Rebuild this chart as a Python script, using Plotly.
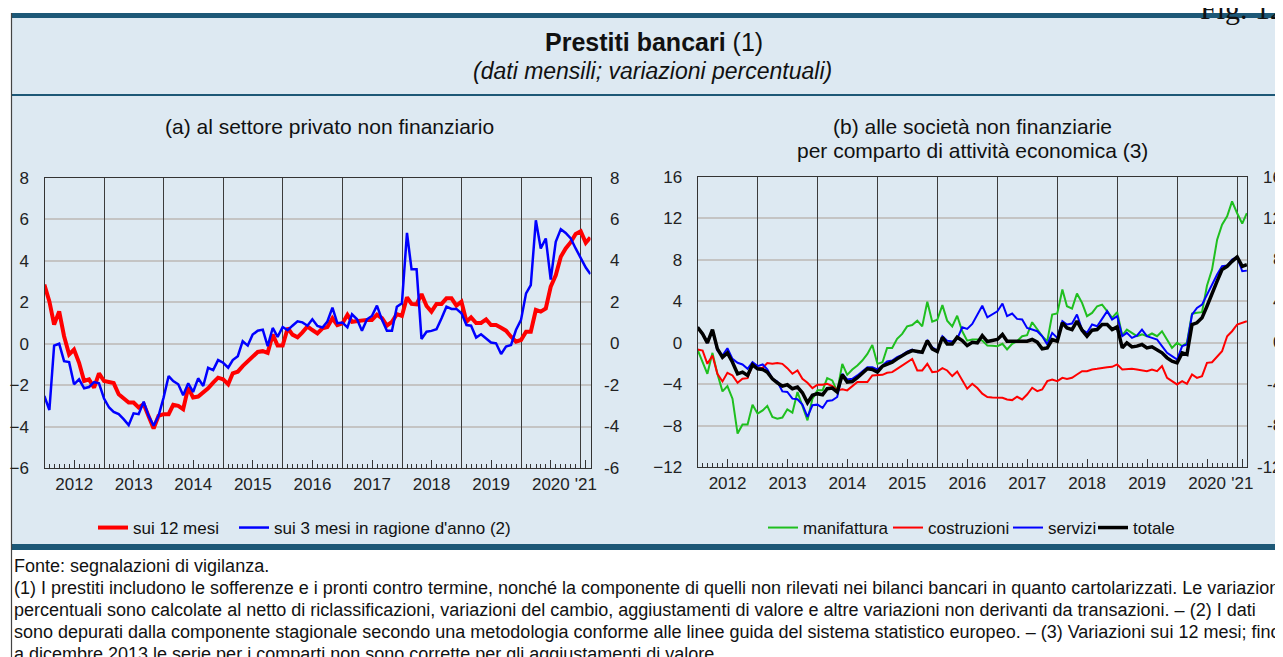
import pandas as pd
import plotly.graph_objects as go

W, H = 1283, 657

# dati mensili, dicembre 2011 - febbraio 2021 (fine mese)
mesi = pd.date_range("2012-01-01", periods=111, freq="MS") - pd.Timedelta(days=1)

# (a) settore privato non finanziario
sui_12_mesi = [
    2.85, 2.04, 0.92, 1.56, 0.36, -0.52, -0.28, -0.92, -1.8, -1.72, -2.12, -1.43,
    -1.8, -1.85, -1.9, -2.44, -2.65, -2.84, -2.84, -3.08, -2.92, -3.48, -4.09, -3.48,
    -3.4, -3.4, -2.95, -3.0, -3.16, -2.12, -2.6, -2.55, -2.36, -2.15, -1.88, -1.64,
    -1.72, -1.96, -1.43, -1.35, -1.08, -0.84, -0.6, -0.4, -0.36, -0.44, 0.44, -0.09,
    -0.09, 0.76, 0.44, 0.31, 0.55, 0.83, 0.66, 0.5, 0.74, 0.8, 1.23, 0.9,
    0.98, 1.4, 1.06, 1.1, 1.1, 1.15, 1.15, 1.4, 1.23, 0.87, 1.06, 1.43,
    1.34, 2.24, 1.92, 1.9, 2.4, 1.82, 1.55, 1.92, 1.92, 2.19, 2.19, 1.84,
    2.03, 1.06, 1.27, 1.0, 1.0, 1.17, 0.9, 0.9, 0.77, 0.63, 0.34, 0.1,
    0.18, 0.58, 0.58, 1.63, 1.55, 1.7, 2.75, 3.3, 4.2, 4.6, 4.9, 5.3,
    5.43, 4.87, 5.13,
]
sui_3_mesi = [
    -2.52, -3.2, -0.09, 0.0, -0.84, -0.89, -1.96, -1.72, -2.15, -2.09, -1.85, -1.91,
    -2.65, -3.08, -3.29, -3.4, -3.64, -3.93, -3.36, -3.4, -2.8, -3.48, -3.96, -3.48,
    -2.6, -1.56, -1.8, -1.96, -2.49, -1.91, -2.33, -1.67, -2.04, -1.16, -1.27, -0.79,
    -0.92, -1.16, -0.79, -0.6, 0.12, -0.09, 0.44, 0.63, 0.68, -0.12, 0.76, 0.33,
    0.81, 0.65, 0.87, 1.08, 1.03, 0.87, 1.18, 0.86, 0.78, 1.07, 1.74, 0.99,
    1.02, 0.79, 1.42, 1.18, 0.62, 1.18, 1.34, 1.84, 1.15, 0.63, 0.63, 1.79,
    1.95, 5.35, 3.59, 3.59, 0.23, 0.58, 0.62, 0.7, 1.23, 1.79, 1.68, 1.68,
    1.47, 0.9, 0.87, 0.3, 0.46, 0.26, 0.06, 0.02, -0.5, -0.14, -0.06, 0.66,
    1.15, 2.43, 2.83, 5.96, 4.6, 5.08, 3.1, 4.92, 5.53, 5.35, 5.08, 4.6,
    4.11, 3.68, 3.36,
]

# (b) societa' non finanziarie per comparto
manifattura = [
    -0.66, -1.88, -3.0, -0.98, -3.0, -4.7, -4.19, -5.4, -8.77, -7.9, -7.9, -5.98,
    -6.85, -6.53, -6.1, -7.17, -7.33, -7.23, -6.43, -6.75, -4.76, -6.1, -7.5, -5.4,
    -4.6, -4.6, -3.42, -3.64, -4.7, -2.04, -3.1, -2.58, -2.2, -1.72, -1.08, -0.21,
    -2.04, -1.88, -0.5, -0.5, 0.37, 0.85, 1.58, 1.71, 2.13, 1.58, 3.96, 2.03,
    2.22, 3.63, 2.13, 1.58, 2.6, 1.1, 0.2, 0.3, 0.3, 0.2, -0.28, -0.3,
    -0.33, -0.1, -0.65, -0.1, 0.15, 0.63, 0.73, 1.98, 1.27, 0.63, 0.15, 2.72,
    2.82, 5.13, 3.52, 3.3, 4.75, 3.85, 2.56, 2.88, 3.52, 3.68, 3.04, 2.4,
    2.95, 0.7, 1.27, 0.95, 0.63, 0.8, 0.63, 0.89, 0.63, 1.1, 0.3, -0.5,
    0.0, -0.33, 0.0, 2.8, 2.9, 2.95, 5.5, 7.06, 9.95, 11.4, 12.2, 13.65,
    12.5, 11.5, 12.5,
]
costruzioni = [
    -0.66, -0.76, -2.04, -1.24, -3.0, -3.74, -2.9, -3.16, -3.87, -3.48, -3.42, -2.1,
    -2.52, -2.42, -1.97, -2.04, -1.97, -2.04, -2.46, -3.0, -2.68, -3.48, -3.87, -4.38,
    -4.06, -4.06, -3.96, -4.19, -4.6, -4.5, -4.6, -4.19, -3.8, -3.8, -3.8, -3.16,
    -3.1, -3.1, -2.9, -2.84, -2.52, -2.2, -1.88, -1.56, -2.68, -2.68, -2.04, -2.84,
    -2.78, -2.46, -2.68, -3.22, -2.78, -3.64, -4.44, -3.96, -4.38, -4.92, -5.24, -5.3,
    -5.32, -5.32, -5.48, -5.54, -5.22, -5.48, -5.0, -4.35, -4.68, -4.51, -3.71, -3.55,
    -3.71, -3.39, -3.49, -3.39, -3.07, -2.75, -2.75, -2.58, -2.52, -2.42, -2.36, -2.33,
    -2.1, -2.58, -2.52, -2.52, -2.58, -2.65, -2.75, -2.58, -2.75, -2.26, -3.39, -3.71,
    -4.03, -3.71, -3.97, -3.07, -3.39, -3.23, -1.94, -1.88, -1.3, -0.82, 0.63, 1.11,
    1.76, 1.92, 2.08,
]
servizi = [
    1.49, 0.85, -0.02, 1.17, -0.76, -1.24, -0.53, -1.56, -1.94, -2.1, -2.52, -1.88,
    -2.26, -2.1, -2.58, -3.48, -3.74, -4.7, -4.76, -5.4, -5.46, -5.98, -7.17, -6.04,
    -5.98, -6.3, -5.63, -5.56, -5.24, -3.0, -3.54, -3.48, -3.16, -2.78, -2.36, -2.36,
    -2.58, -2.2, -1.81, -1.72, -1.4, -1.17, -0.85, -0.66, -0.92, -0.92, 0.2, -0.44,
    -0.76, 0.62, 0.2, 0.11, 0.37, 1.49, 1.33, 1.81, 2.77, 3.57, 2.45, 2.7,
    3.04, 3.78, 2.56, 2.82, 2.3, 2.24, 1.43, 1.27, 1.11, 0.63, -0.17, 0.95,
    0.47, 2.08, 1.76, 1.85, 2.72, 1.27, 0.95, 1.76, 1.59, 2.3, 3.04, 2.24,
    2.56, 0.63, 0.95, 0.47, 0.69, 1.27, 0.63, 0.47, 0.31, -0.33, -0.98, -1.3,
    -1.62, -0.33, -0.17, 2.72, 3.36, 3.68, 4.65, 5.61, 6.58, 7.38, 7.45, 8.03,
    8.28, 6.9, 6.96,
]
totale = [
    1.49, 0.85, -0.02, 1.27, -0.6, -1.4, -0.98, -1.88, -3.0, -2.84, -3.16, -2.13,
    -2.52, -2.58, -2.84, -3.48, -3.87, -4.19, -4.06, -4.44, -4.28, -4.83, -5.79, -5.08,
    -4.92, -5.02, -4.44, -4.38, -4.76, -3.1, -3.8, -3.74, -3.38, -3.0, -2.52, -2.58,
    -2.84, -2.26, -2.1, -1.88, -1.56, -1.24, -0.98, -0.76, -0.85, -0.92, 0.2, -0.6,
    -0.85, 0.53, -0.12, -0.12, 0.53, 0.2, -0.28, 0.04, -0.02, 0.69, 0.11, 0.2,
    0.31, 0.79, 0.15, 0.15, 0.15, 0.21, 0.15, 0.31, 0.05, -0.59, -0.5, 0.31,
    0.15, 1.92, 1.43, 1.27, 2.08, 1.21, 0.63, 1.21, 1.27, 1.76, 1.76, 1.27,
    1.53, -0.5, -0.01, -0.4, -0.33, -0.17, -0.5, -0.4, -0.66, -0.98, -1.46, -1.78,
    -1.94, -0.98, -1.14, 1.76, 1.92, 2.4, 3.52, 4.81, 5.94, 7.06, 7.38, 7.86,
    8.28, 7.38, 7.54,
]

anni = [str(a) for a in range(2012, 2021)] + ["'21"]
pos_anni = [f"{a}-07-01" for a in range(2012, 2021)] + ["2021-02-01"]
inizio_anni = [f"{a}-01-01" for a in range(2013, 2022)]
tick_a = [-6, -4, -2, 0, 2, 4, 6, 8]
tick_b = [-12, -8, -4, 0, 4, 8, 12, 16]

FONT = "Liberation Sans, Arial, sans-serif"
BLU_SCURO = "#1d5877"
SFONDO = "#dde9f2"
RANGE_X = ["2012-01-01", "2021-03-01"]
OFF = 8  # margine del body della pagina


def px(x):
    return (x - OFF) / W


def py(y):
    return 1 - (y - OFF) / H


def asse_x(dominio, ancora):
    return dict(
        domain=dominio, anchor=ancora, type="date", range=RANGE_X, automargin=False,
        tickmode="array", tickvals=pos_anni, ticktext=anni,
        ticks="inside", ticklen=8, tickwidth=1, tickcolor="#333",
        minor=dict(dtick="M1", tick0="2012-01-01", ticks="inside", ticklen=4,
                   tickwidth=1, tickcolor="#333", showgrid=False),
        showgrid=False, zeroline=False, showline=True, linecolor="#333",
        linewidth=1.2, mirror=True, ticklabelstandoff=0,
        tickfont=dict(family=FONT, size=17, color="#222"),
    )


def griglia_x(sopra, ancora):
    # linee verticali di inizio anno
    return dict(
        overlaying=sopra, anchor=ancora, type="date", range=RANGE_X, automargin=False,
        tickmode="array", tickvals=inizio_anni, showgrid=True,
        gridcolor="#3c3c3c", gridwidth=1, showticklabels=False, ticks="",
        showline=False, zeroline=False,
    )


def asse_y(dominio, ancora, rng, passo):
    return dict(
        domain=dominio, anchor=ancora, range=rng, tickmode="array", automargin=False,
        tickvals=list(range(rng[0], rng[1] + 1, passo)),
        showgrid=True, gridcolor="#c4c4c4", gridwidth=1.5, zeroline=False,
        showline=True, linecolor="#333", linewidth=1.2, mirror=True,
        ticks="", ticklabelstandoff=11,
        tickfont=dict(family=FONT, size=17, color="#222"),
    )


# una legenda per voce, per collocare ogni voce come nell'originale
# (nome, valori, colore, spessore, assi, legenda, inizio testo in px)
serie = [
    ("sui 12 mesi", sui_12_mesi, "#ff0000", 4, ("x", "y"), "legend", 133),
    ("sui 3 mesi in ragione d'anno (2)", sui_3_mesi, "#0000ff", 2.5, ("x", "y"), "legend2", 274),
    ("manifattura", manifattura, "#1fbf1f", 2, ("x2", "y2"), "legend3", 803),
    ("costruzioni", costruzioni, "#ff0000", 2, ("x2", "y2"), "legend4", 928),
    ("servizi", servizi, "#0000ff", 2, ("x2", "y2"), "legend5", 1048),
    ("totale", totale, "#000000", 3.5, ("x2", "y2"), "legend6", 1133),
]

fig = go.Figure()
legende = {}
for nome, valori, colore, spess, (xa, ya), leg, x_testo in serie:
    fig.add_trace(go.Scatter(x=mesi, y=valori, name=nome, mode="lines",
                             line=dict(color=colore, width=spess),
                             xaxis=xa, yaxis=ya, legend=leg))
    legende[leg] = dict(orientation="h", x=px(x_testo - 40), y=py(528),
                        xanchor="left", yanchor="middle", bgcolor="rgba(0,0,0,0)",
                        font=dict(family=FONT, size=17, color="#111"))

# tracce vuote per gli assi della griglia annuale
for xa, ya in (("x3", "y"), ("x4", "y2")):
    fig.add_trace(go.Scatter(x=[mesi[12]], y=[None], xaxis=xa, yaxis=ya,
                             showlegend=False, hoverinfo="skip"))

fig.update_layout(
    width=W, height=H, autosize=False,
    margin=dict(l=0, r=0, t=0, b=0, autoexpand=False),
    paper_bgcolor="white", plot_bgcolor="white",
    font=dict(family=FONT, color="#111"),
    xaxis=asse_x([px(44.5), px(590.5)], "y"),
    yaxis=asse_y([py(468), py(178)], "x", [-6, 8], 2),
    xaxis2=asse_x([px(697.7), px(1247)], "y2"),
    yaxis2=asse_y([py(467), py(177)], "x2", [-12, 16], 4),
    xaxis3=griglia_x("x", "y"),
    xaxis4=griglia_x("x2", "y2"),
    showlegend=True,
    **legende,
)

# cornice e sfondo
fig.add_shape(type="rect", xref="paper", yref="paper", x0=px(11), x1=1.05,
              y0=py(546), y1=py(16), fillcolor=SFONDO, line=dict(width=0), layer="below")
fig.add_shape(type="rect", xref="paper", yref="paper", x0=px(11), x1=1.05,
              y0=py(18), y1=py(13), fillcolor=BLU_SCURO, line=dict(width=0), layer="below")
fig.add_shape(type="rect", xref="paper", yref="paper", x0=px(11), x1=1.05,
              y0=py(550), y1=py(544), fillcolor=BLU_SCURO, line=dict(width=0), layer="below")
fig.add_shape(type="line", xref="paper", yref="paper", x0=px(11), x1=1.05,
              y0=py(95), y1=py(95), line=dict(color=BLU_SCURO, width=2), layer="below")
fig.add_shape(type="line", xref="paper", yref="paper", x0=px(11.5), x1=px(11.5),
              y0=py(13), y1=py(670), line=dict(color="#444", width=1.2), layer="below")

testi = [
    ("<b>Prestiti bancari</b> (1)", 654, 42, 25),
    ("<i>(dati mensili; variazioni percentuali)</i>", 652, 71, 23),
    ("(a) al settore privato non finanziario", 329, 127, 21),
    ("(b) alle società non finanziarie", 972, 127, 21),
    ("per comparto di attività economica (3)", 972, 150, 21),
]
for testo, x, y, size in testi:
    fig.add_annotation(text=testo, xref="paper", yref="paper", x=px(x), y=py(y),
                       xanchor="center", yanchor="middle", showarrow=False,
                       font=dict(family=FONT, size=size, color="#111"))

fig.add_annotation(text="Fig. 12", xref="paper", yref="paper", x=px(1198), y=py(27),
                   xanchor="left", yanchor="bottom", showarrow=False,
                   font=dict(family="Liberation Serif, Times New Roman, serif", size=30,
                             color="#111"))

# etichette asse destro
for v in tick_a:
    fig.add_annotation(text=str(v), xref="paper", yref="y", x=px(621), y=v,
                       xanchor="right", yanchor="middle", showarrow=False,
                       font=dict(family=FONT, size=17, color="#222"))
for v in tick_b:
    fig.add_annotation(text=str(v), xref="paper", yref="y2", x=px(1284), y=v,
                       xanchor="right", yanchor="middle", showarrow=False,
                       font=dict(family=FONT, size=17, color="#222"))

note = [
    "Fonte: segnalazioni di vigilanza.",
    "(1) I prestiti includono le sofferenze e i pronti contro termine, nonché la componente di quelli non rilevati nei bilanci bancari in quanto cartolarizzati. Le variazioni",
    "percentuali sono calcolate al netto di riclassificazioni, variazioni del cambio, aggiustamenti di valore e altre variazioni non derivanti da transazioni. – (2) I dati",
    "sono depurati dalla componente stagionale secondo una metodologia conforme alle linee guida del sistema statistico europeo. – (3) Variazioni sui 12 mesi; fino",
    "a dicembre 2013 le serie per i comparti non sono corrette per gli aggiustamenti di valore.",
]
for i, riga in enumerate(note):
    fig.add_annotation(text=riga, xref="paper", yref="paper", x=px(12), y=py(566 + 22 * i),
                       xanchor="left", yanchor="middle", showarrow=False,
                       font=dict(family=FONT, size=18, color="#111"))

fig.write_html("out.html")
